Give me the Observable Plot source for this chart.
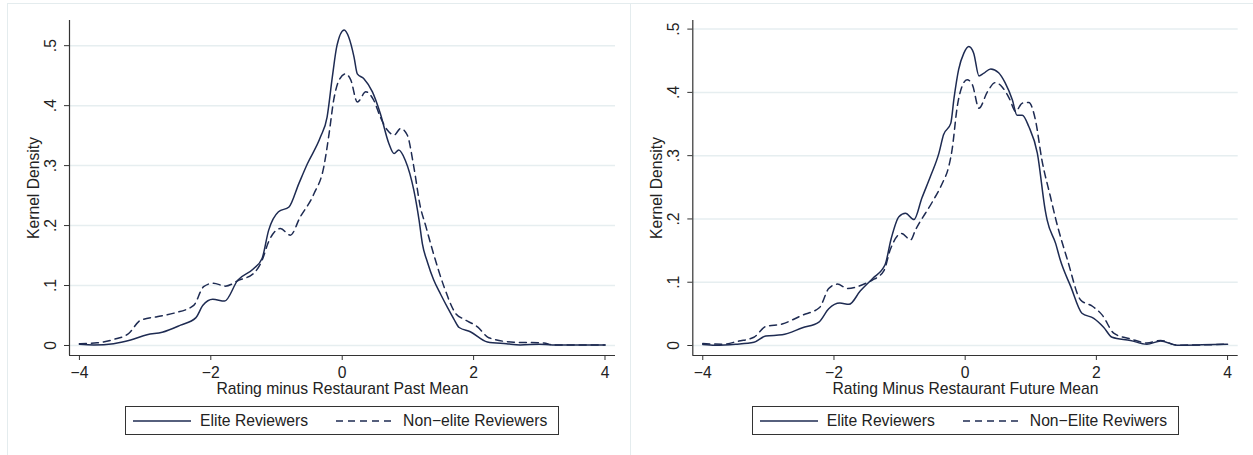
<!DOCTYPE html>
<html>
<head>
<meta charset="utf-8">
<script src="https://cdn.jsdelivr.net/npm/d3@7"></script>
<script src="https://cdn.jsdelivr.net/npm/@observablehq/plot@0.6"></script>
<style>
  body { margin: 0; background: #fff; font-family: "Liberation Sans", Arial, sans-serif; }
  #root { position: relative; width: 1253px; height: 455px; overflow: hidden; background: #fff; }
  .panelbox { position: absolute; top: 3px; height: 480px; border-left: 1px solid #e4ecee; border-top: 1px solid #e4ecee; }
  .plotwrap { position: absolute; top: 0; }
  .plotwrap svg { max-width: none; overflow: visible; }
  .legend { position: absolute; top: 406px; height: 29px; box-sizing: border-box; border: 1px solid #333;
            display: flex; align-items: center; padding: 0 11px 0 7px; font-size: 15.7px; color: #222; white-space: nowrap; }
  .legend svg { display: block; }
  .legend .lab { margin-left: 9px; }
  .legend .gap { width: 28px; }
</style>
</head>
<body>
<div id="root"></div>
<script>
// ---------- data ----------
const xTicks = [-4, -2, 0, 2, 4];
const yTicks = [0, 0.1, 0.2, 0.3, 0.4, 0.5];
const yTitle = "Kernel Density";
const xTitles = ["Rating minus Restaurant Past Mean", "Rating Minus Restaurant Future Mean"];
const legendLeft = ["Elite Reviewers", "Non\u2212elite Reviewers"];
const legendRight = ["Elite Reviewers", "Non\u2212Elite Reviwers"];

// Left panel: elite (solid)
const leftEliteX = [-4.00, -3.78, -3.48, -3.22, -2.97, -2.74, -2.46, -2.23, -2.12, -1.97, -1.79, -1.59, -1.35, -1.22, -1.12, -0.97, -0.81, -0.66, -0.53, -0.33, -0.23, -0.15, -0.08, 0.03, 0.10, 0.18, 0.23, 0.33, 0.46, 0.58, 0.71, 0.79, 0.86, 0.96, 1.09, 1.17, 1.22, 1.30, 1.39, 1.50, 1.60, 1.70, 1.78, 1.95, 2.21, 2.50, 2.71, 3.00, 3.20, 3.50, 4.00];
const leftEliteY = [0.002, 0.001, 0.003, 0.009, 0.018, 0.022, 0.034, 0.046, 0.067, 0.077, 0.074, 0.109, 0.128, 0.145, 0.192, 0.223, 0.231, 0.270, 0.303, 0.348, 0.381, 0.448, 0.500, 0.526, 0.514, 0.481, 0.453, 0.445, 0.423, 0.387, 0.337, 0.320, 0.326, 0.309, 0.259, 0.209, 0.170, 0.138, 0.110, 0.085, 0.064, 0.044, 0.030, 0.023, 0.006, 0.003, 0.001, 0.002, 0.001, 0.001, 0.001];
// Left panel: non-elite (dashed)
const leftNonX = [-4.00, -3.73, -3.48, -3.25, -3.07, -2.82, -2.56, -2.26, -2.11, -1.96, -1.78, -1.57, -1.35, -1.22, -1.12, -0.94, -0.79, -0.64, -0.43, -0.28, -0.20, -0.13, -0.05, 0.05, 0.13, 0.23, 0.36, 0.48, 0.58, 0.69, 0.79, 0.89, 0.99, 1.09, 1.19, 1.27, 1.32, 1.39, 1.55, 1.73, 1.85, 2.06, 2.23, 2.61, 3.07, 3.20, 4.00];
const leftNonY = [0.003, 0.0045, 0.010, 0.020, 0.042, 0.048, 0.054, 0.067, 0.098, 0.104, 0.099, 0.109, 0.120, 0.142, 0.173, 0.195, 0.184, 0.214, 0.253, 0.298, 0.353, 0.409, 0.442, 0.453, 0.443, 0.406, 0.423, 0.409, 0.381, 0.359, 0.351, 0.362, 0.351, 0.298, 0.231, 0.200, 0.180, 0.153, 0.098, 0.053, 0.044, 0.031, 0.013, 0.0055, 0.0043, 0.001, 0.001];
// Right panel: elite (solid)
const rightEliteX = [-4.00, -3.81, -3.50, -3.22, -3.04, -2.79, -2.48, -2.23, -2.08, -1.91, -1.77, -1.60, -1.41, -1.22, -1.13, -1.01, -0.91, -0.78, -0.66, -0.53, -0.40, -0.33, -0.22, -0.17, -0.10, -0.02, 0.055, 0.13, 0.21, 0.28, 0.39, 0.51, 0.61, 0.72, 0.79, 0.87, 0.97, 1.10, 1.22, 1.25, 1.38, 1.45, 1.61, 1.78, 1.96, 2.11, 2.24, 2.52, 2.77, 2.98, 3.23, 3.60, 4.00];
const rightEliteY = [0.0016, 0.0005, 0.002, 0.005, 0.015, 0.017, 0.028, 0.037, 0.058, 0.067, 0.065, 0.086, 0.106, 0.128, 0.168, 0.2035, 0.209, 0.199, 0.233, 0.267, 0.304, 0.333, 0.351, 0.391, 0.436, 0.462, 0.4725, 0.462, 0.426, 0.430, 0.437, 0.431, 0.415, 0.388, 0.364, 0.364, 0.346, 0.304, 0.214, 0.198, 0.161, 0.135, 0.093, 0.051, 0.043, 0.029, 0.013, 0.008, 0.002, 0.007, 0.0005, 0.001, 0.002];
// Right panel: non-elite (dashed)
const rightNonX = [-4.00, -3.70, -3.45, -3.22, -3.04, -2.79, -2.48, -2.22, -2.08, -1.95, -1.79, -1.52, -1.42, -1.24, -1.14, -0.97, -0.83, -0.76, -0.50, -0.35, -0.25, -0.20, -0.12, -0.05, 0.03, 0.11, 0.21, 0.34, 0.46, 0.56, 0.67, 0.77, 0.87, 0.97, 1.07, 1.17, 1.30, 1.38, 1.56, 1.76, 1.94, 2.09, 2.27, 2.52, 2.77, 2.98, 3.23, 3.60, 4.00];
const rightNonY = [0.003, 0.002, 0.007, 0.013, 0.030, 0.034, 0.048, 0.060, 0.090, 0.097, 0.090, 0.098, 0.103, 0.118, 0.152, 0.177, 0.167, 0.182, 0.227, 0.256, 0.283, 0.309, 0.378, 0.409, 0.420, 0.412, 0.375, 0.401, 0.4155, 0.409, 0.391, 0.370, 0.383, 0.384, 0.357, 0.293, 0.235, 0.200, 0.135, 0.072, 0.062, 0.048, 0.019, 0.0105, 0.004, 0.008, 0.0005, 0.001, 0.002];

// ---------- style ----------
const lineColor = "#1e2b52";
const gridColor = "#e6eef0";
const axisColor = "#333";
const fontFamily = "'Liberation Sans', Arial, sans-serif";
const fontSize = 15.7;

const fmtX = d => d < 0 ? "\u2212" + Math.abs(d) : String(d);
const fmtY = d => d === 0 ? "0" : String(d).replace(/^0/, "");

function makePanel({ex, ey, nx, ny, xDomain, yDomain, width, marginLeft, marginRight, xTitle}) {
  const solid = ex.map((x, i) => ({x, y: ey[i]}));
  const dashed = nx.map((x, i) => ({x, y: ny[i]}));
  return Plot.plot({
    width, height: 400,
    marginLeft, marginRight, marginTop: 20, marginBottom: 45,
    x: {domain: xDomain},
    y: {domain: yDomain},
    style: {background: "transparent", fontFamily, fontSize: fontSize + "px", color: "#222", overflow: "visible"},
    marks: [
      Plot.ruleY(yTicks, {stroke: gridColor, strokeWidth: 1.5}),
      Plot.ruleY([yDomain[0]], {stroke: axisColor, strokeWidth: 1.2}),
      Plot.ruleX([xDomain[0]], {stroke: axisColor, strokeWidth: 1.2}),
      Plot.axisX({ticks: xTicks, tickSize: 5, tickPadding: 6, tickFormat: fmtX, label: null, stroke: axisColor, fontSize}),
      Plot.axisY({ticks: yTicks, tickSize: 5, tickFormat: () => "", label: null, stroke: axisColor}),
      Plot.text(yTicks, {y: d => d, text: fmtY, frameAnchor: "left", dx: -19, rotate: -90, textAnchor: "middle", lineAnchor: "middle", fontSize}),
      Plot.text([yTitle], {text: d => d, frameAnchor: "left", dx: -36, rotate: -90, textAnchor: "middle", lineAnchor: "middle", fontSize}),
      Plot.text([xTitle], {text: d => d, frameAnchor: "bottom", dy: 33, textAnchor: "middle", lineAnchor: "middle", fontSize}),
      Plot.line(dashed, {x: "x", y: "y", stroke: lineColor, strokeWidth: 1.5, strokeDasharray: "7,5", curve: "monotone-x"}),
      Plot.line(solid, {x: "x", y: "y", stroke: lineColor, strokeWidth: 1.5, curve: "monotone-x"})
    ]
  });
}

function makeLegend(labels, left) {
  const div = document.createElement("div");
  div.className = "legend";
  div.style.left = left + "px";
  const ns = "http://www.w3.org/2000/svg";
  labels.forEach((lab, i) => {
    if (i > 0) { const g = document.createElement("span"); g.className = "gap"; div.appendChild(g); }
    const svg = document.createElementNS(ns, "svg");
    svg.setAttribute("width", 58); svg.setAttribute("height", 6);
    const ln = document.createElementNS(ns, "line");
    ln.setAttribute("x1", 0); ln.setAttribute("x2", 58); ln.setAttribute("y1", 3); ln.setAttribute("y2", 3);
    ln.setAttribute("stroke", lineColor); ln.setAttribute("stroke-width", 1.5);
    if (i === 1) ln.setAttribute("stroke-dasharray", "7,5");
    svg.appendChild(ln);
    div.appendChild(svg);
    const s = document.createElement("span"); s.className = "lab"; s.textContent = lab;
    div.appendChild(s);
  });
  return div;
}

const root = document.getElementById("root");
const b1 = document.createElement("div"); b1.className = "panelbox"; b1.style.left = "7px"; b1.style.width = "623px"; root.appendChild(b1);
const b2 = document.createElement("div"); b2.className = "panelbox"; b2.style.left = "630px"; b2.style.width = "700px"; root.appendChild(b2);

const w1 = document.createElement("div"); w1.className = "plotwrap"; w1.style.left = "0px";
w1.appendChild(makePanel({ex: leftEliteX, ey: leftEliteY, nx: leftNonX, ny: leftNonY,
  xDomain: [-4.151, 4.160], yDomain: [-0.0167, 0.542], width: 626, marginLeft: 69, marginRight: 11, xTitle: xTitles[0]}));
root.appendChild(w1);

const w2 = document.createElement("div"); w2.className = "plotwrap"; w2.style.left = "627px";
w2.appendChild(makePanel({ex: rightEliteX, ey: rightEliteY, nx: rightNonX, ny: rightNonY,
  xDomain: [-4.152, 4.162], yDomain: [-0.0158, 0.5136], width: 626, marginLeft: 65.3, marginRight: 15.3, xTitle: xTitles[1]}));
root.appendChild(w2);

root.appendChild(makeLegend(legendLeft, 125));
root.appendChild(makeLegend(legendRight, 751.7));
</script>
</body>
</html>
